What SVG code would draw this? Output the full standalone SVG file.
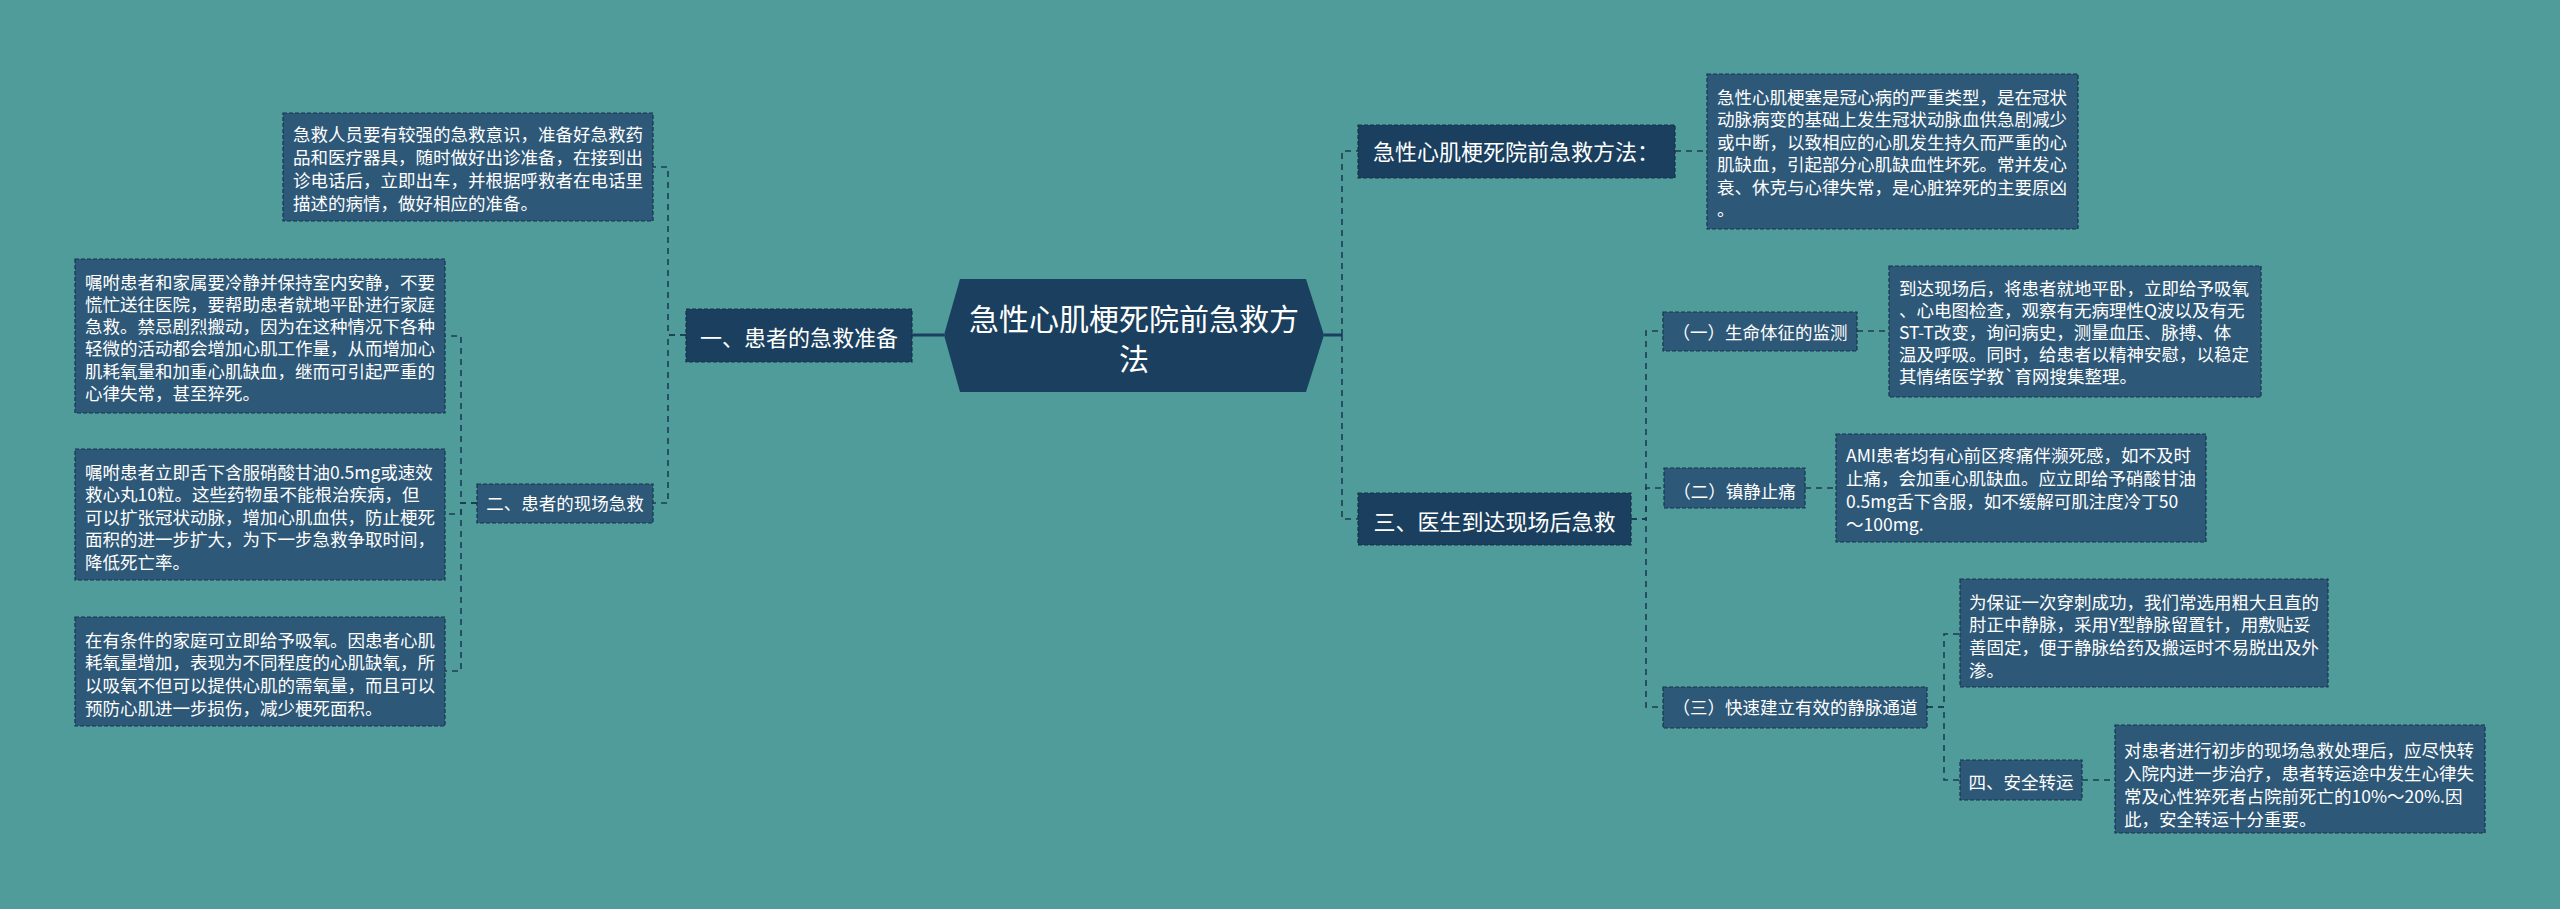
<svg xmlns="http://www.w3.org/2000/svg" width="2560" height="909" viewBox="0 0 2560 909">
<style>
.bg{fill:#4f9c9b}
.l1{fill:#1b3f5e;stroke:#14324c;stroke-width:1.2;stroke-dasharray:4 2}
.l2{fill:#2e5878;stroke:#16344f;stroke-width:1.2;stroke-dasharray:4 2}
.t{font-family:"Noto Sans CJK SC","Noto Sans",sans-serif;fill:#ffffff}
.s{font-size:17.5px}
.m{font-size:22px;text-anchor:middle}
.mm{font-size:17.5px;text-anchor:middle}
.c{fill:none;stroke:#1c3c56;stroke-width:1.6;stroke-dasharray:6 5}
.cs{fill:none;stroke:#1b3f5e;stroke-width:3}
</style>
<rect class="bg" x="0" y="0" width="2560" height="909"/>

<g id="connectors">
<path class="cs" d="M944,335 H912"/>
<path class="c" d="M686,335 H668 V167 H653"/>
<path class="c" d="M686,335 H668 V503 H653"/>
<path class="c" d="M477,503 H461 V336 H445"/>
<path class="c" d="M477,503 H461 V514 H445"/>
<path class="c" d="M477,503 H461 V671 H445"/>
<path class="cs" d="M1324,335 H1342"/>
<path class="c" d="M1342,335 V151 H1358"/>
<path class="c" d="M1342,335 V519 H1358"/>
<path class="c" d="M1675,151 H1707"/>
<path class="c" d="M1631,519 H1646 V331 H1663"/>
<path class="c" d="M1631,519 H1646 V488 H1664"/>
<path class="c" d="M1631,519 H1646 V707 H1663"/>
<path class="c" d="M1857,331 H1889"/>
<path class="c" d="M1805,488 H1836"/>
<path class="c" d="M1927,707 H1944 V634 H1960"/>
<path class="c" d="M1927,707 H1944 V780 H1960"/>
<path class="c" d="M2082,780 H2115"/>
</g>

<g id="root">
<polygon points="960,279 1306,279 1324,335 1306,392 960,392 944,335" fill="#1b3f5e"/>
<text class="t" x="1134" y="329.5" font-size="30" text-anchor="middle">急性心肌梗死院前急救方</text>
<text class="t" x="1134" y="369.5" font-size="30" text-anchor="middle">法</text>
</g>

<g id="n-prep">
<rect class="l1" x="686" y="309" width="226" height="53"/>
<text class="t m" x="799" y="346">一、患者的急救准备</text>
</g>

<g id="n-prep-desc">
<rect class="l2" x="283" y="113" width="370" height="108"/>
<text class="t s" x="293" y="140.5">急救人员要有较强的急救意识，准备好急救药</text>
<text class="t s" x="293" y="163.5">品和医疗器具，随时做好出诊准备，在接到出</text>
<text class="t s" x="293" y="186.5">诊电话后，立即出车，并根据呼救者在电话里</text>
<text class="t s" x="293" y="209.5">描述的病情，做好相应的准备。</text>
</g>

<g id="n-scene">
<rect class="l2" x="477" y="484" width="176" height="39"/>
<text class="t mm" x="565" y="509.6">二、患者的现场急救</text>
</g>

<g id="n-scene-1">
<rect class="l2" x="75" y="259" width="370" height="154"/>
<text class="t s" x="85" y="288.5">嘱咐患者和家属要冷静并保持室内安静，不要</text>
<text class="t s" x="85" y="310.8">慌忙送往医院，要帮助患者就地平卧进行家庭</text>
<text class="t s" x="85" y="333.1">急救。禁忌剧烈搬动，因为在这种情况下各种</text>
<text class="t s" x="85" y="355.4">轻微的活动都会增加心肌工作量，从而增加心</text>
<text class="t s" x="85" y="377.7">肌耗氧量和加重心肌缺血，继而可引起严重的</text>
<text class="t s" x="85" y="400">心律失常，甚至猝死。</text>
</g>

<g id="n-scene-2">
<rect class="l2" x="75" y="449" width="370" height="131"/>
<text class="t s" x="85" y="478.5">嘱咐患者立即舌下含服硝酸甘油0.5mg或速效</text>
<text class="t s" x="85" y="501">救心丸10粒。这些药物虽不能根治疾病，但</text>
<text class="t s" x="85" y="523.5">可以扩张冠状动脉，增加心肌血供，防止梗死</text>
<text class="t s" x="85" y="546">面积的进一步扩大，为下一步急救争取时间，</text>
<text class="t s" x="85" y="568.5">降低死亡率。</text>
</g>

<g id="n-scene-3">
<rect class="l2" x="75" y="617" width="370" height="109"/>
<text class="t s" x="85" y="646.5">在有条件的家庭可立即给予吸氧。因患者心肌</text>
<text class="t s" x="85" y="669.2">耗氧量增加，表现为不同程度的心肌缺氧，所</text>
<text class="t s" x="85" y="691.9">以吸氧不但可以提供心肌的需氧量，而且可以</text>
<text class="t s" x="85" y="714.6">预防心肌进一步损伤，减少梗死面积。</text>
</g>

<g id="n-method">
<rect class="l1" x="1358" y="125" width="317" height="53"/>
<text class="t m" x="1516" y="160">急性心肌梗死院前急救方法：</text>
</g>

<g id="n-method-desc">
<rect class="l2" x="1707" y="74" width="371" height="155"/>
<text class="t s" x="1717" y="103.5">急性心肌梗塞是冠心病的严重类型，是在冠状</text>
<text class="t s" x="1717" y="126">动脉病变的基础上发生冠状动脉血供急剧减少</text>
<text class="t s" x="1717" y="148.5">或中断，以致相应的心肌发生持久而严重的心</text>
<text class="t s" x="1717" y="171">肌缺血，引起部分心肌缺血性坏死。常并发心</text>
<text class="t s" x="1717" y="193.5">衰、休克与心律失常，是心脏猝死的主要原凶</text>
<text class="t s" x="1717" y="216">。</text>
</g>

<g id="n-doctor">
<rect class="l1" x="1358" y="493" width="273" height="52"/>
<text class="t m" x="1494.5" y="530">三、医生到达现场后急救</text>
</g>

<g id="n-vital">
<rect class="l2" x="1663" y="312" width="194" height="39"/>
<text class="t mm" x="1760" y="338.6">（一）生命体征的监测</text>
</g>

<g id="n-vital-desc">
<rect class="l2" x="1889" y="266" width="372" height="131"/>
<text class="t s" x="1899" y="294.5">到达现场后，将患者就地平卧，立即给予吸氧</text>
<text class="t s" x="1899" y="316.5">、心电图检查，观察有无病理性Q波以及有无</text>
<text class="t s" x="1899" y="338.5">ST-T改变，询问病史，测量血压、脉搏、体</text>
<text class="t s" x="1899" y="360.5">温及呼吸。同时，给患者以精神安慰，以稳定</text>
<text class="t s" x="1899" y="382.5">其情绪医学教`育网搜集整理。</text>
</g>

<g id="n-pain">
<rect class="l2" x="1664" y="468" width="141" height="40"/>
<text class="t mm" x="1734.5" y="497.6">（二）镇静止痛</text>
</g>

<g id="n-pain-desc">
<rect class="l2" x="1836" y="434" width="370" height="108"/>
<text class="t s" x="1846" y="461.5">AMI患者均有心前区疼痛伴濒死感，如不及时</text>
<text class="t s" x="1846" y="484.5">止痛，会加重心肌缺血。应立即给予硝酸甘油</text>
<text class="t s" x="1846" y="507.5">0.5mg舌下含服，如不缓解可肌注度冷丁50</text>
<text class="t s" x="1846" y="530.5">～100mg.</text>
</g>

<g id="n-vein">
<rect class="l2" x="1663" y="687" width="264" height="41"/>
<text class="t mm" x="1795" y="713.6">（三）快速建立有效的静脉通道</text>
</g>

<g id="n-vein-desc">
<rect class="l2" x="1960" y="579" width="368" height="108"/>
<text class="t s" x="1969" y="608.5">为保证一次穿刺成功，我们常选用粗大且直的</text>
<text class="t s" x="1969" y="631.2">肘正中静脉，采用Y型静脉留置针，用敷贴妥</text>
<text class="t s" x="1969" y="653.9">善固定，便于静脉给药及搬运时不易脱出及外</text>
<text class="t s" x="1969" y="676.6">渗。</text>
</g>

<g id="n-transfer">
<rect class="l2" x="1960" y="760" width="122" height="40"/>
<text class="t mm" x="2021" y="788.6">四、安全转运</text>
</g>

<g id="n-transfer-desc">
<rect class="l2" x="2115" y="725" width="370" height="108"/>
<text class="t s" x="2124" y="756.5">对患者进行初步的现场急救处理后，应尽快转</text>
<text class="t s" x="2124" y="779.5">入院内进一步治疗，患者转运途中发生心律失</text>
<text class="t s" x="2124" y="802.5">常及心性猝死者占院前死亡的10%～20%.因</text>
<text class="t s" x="2124" y="825.5">此，安全转运十分重要。</text>
</g>
</svg>
